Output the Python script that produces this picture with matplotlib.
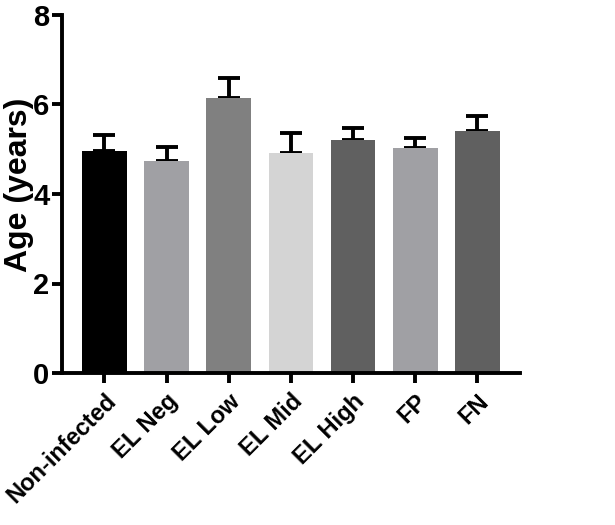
import numpy as np
import matplotlib.pyplot as plt

plt.rcParams['font.family'] = ['Liberation Sans', 'DejaVu Sans']
plt.rcParams['font.weight'] = 'bold'

groups = ['Non-infected', 'EL Neg', 'EL Low', 'EL Mid', 'EL High', 'FP', 'FN']
means = [4.97, 4.73, 6.15, 4.92, 5.20, 5.03, 5.40]
upper = [5.32, 5.06, 6.59, 5.36, 5.47, 5.26, 5.75]
colors = ['#000000', '#A0A0A4', '#808080', '#D4D4D4', '#606060', '#A0A0A4', '#606060']

err = np.array(upper) - np.array(means)
x = np.arange(len(groups))

fig = plt.figure(figsize=(6.15, 5.25), dpi=100)
ax = fig.add_axes([0.101, 0.2895, 0.745, 0.682])

ax.bar(x, means, width=0.72, color=colors, zorder=2)
ax.errorbar(x, means, yerr=[np.zeros(len(x)), err], fmt='none', ecolor='black',
            elinewidth=2.8, capsize=8, capthick=2.8, zorder=1)

ax.set_xlim(-0.68, 6.69)
ax.set_ylim(0, 8)
ax.set_yticks([0, 2, 4, 6, 8])
ax.set_xticks(x)
ax.set_xticklabels(groups, rotation=45, ha='right', rotation_mode='anchor', fontsize=17, fontweight='bold')
ax.tick_params(axis='y', labelsize=21, width=2.8, length=7, pad=2)
ax.tick_params(axis='x', width=2.8, length=7, pad=5)
for lab in ax.get_yticklabels():
    lab.set_fontweight('bold')
ax.set_ylabel('Age (years)', fontsize=23, fontweight='bold', va='center')
ax.yaxis.set_label_coords(-0.095, 0.525)

for s in ['top', 'right']:
    ax.spines[s].set_visible(False)
for s in ['left', 'bottom']:
    ax.spines[s].set_linewidth(2.8)

fig.savefig('out.png', dpi=100)
